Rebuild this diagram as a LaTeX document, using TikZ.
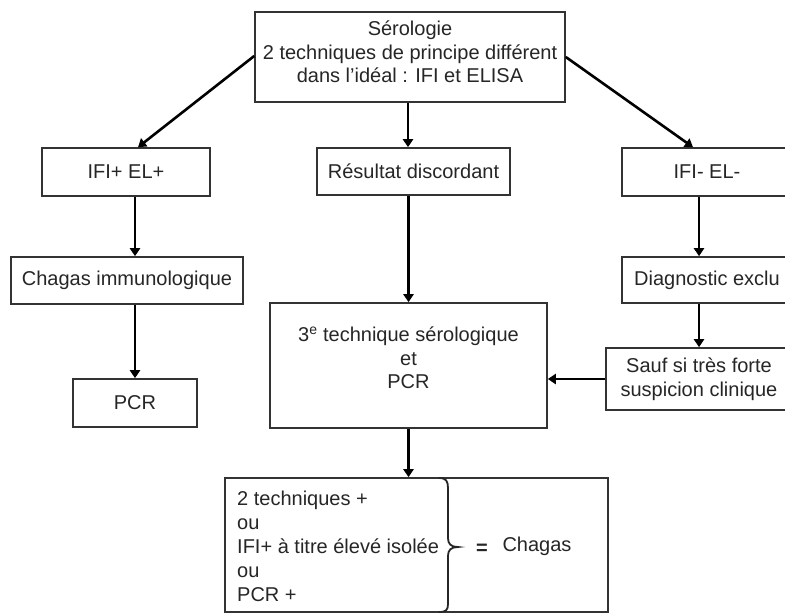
\documentclass[tikz,border=0pt]{standalone}
\usepackage{fontspec}
\setmainfont{Liberation Sans}
\usetikzlibrary{arrows.meta}
\tikzset{
  box/.style={draw=black!80, line width=1.6pt, inner sep=0pt, fill=white},
  lbl/.style={inner sep=0pt, font=\fontsize{20}{23.5}\selectfont, text=black!85},
  arr/.style={draw=black, line width=2.6pt, -{Triangle[width=10pt,length=8pt]}},
  bracestyle/.style={draw=black!85, line width=1.8pt, line cap=round},
}
\begin{document}
\begin{tikzpicture}[x=1pt,y=-1pt]
\useasboundingbox (0,0) rectangle (785,616);
% boxes
\node[box, minimum width=310pt, minimum height=90pt] (top) at (410,57) {};
\node[lbl, align=center] (toptxt) at (410,52) {Sérologie\\2 techniques de principe différent\\dans l'idéal : IFI et ELISA};
\node[box, lbl, minimum width=168pt, minimum height=48pt] (ifip) at (126,172) {IFI+ EL+};
\node[box, lbl, minimum width=232pt, minimum height=47pt] (chim) at (127,280.5) {Chagas immunologique};
\node[box, lbl, minimum width=124pt, minimum height=48pt] (pcr) at (135,403) {PCR};
\node[box, lbl, minimum width=193pt, minimum height=47pt] (disc) at (413.5,171.5) {Résultat discordant};
\node[box, lbl, minimum width=170pt, minimum height=48pt] (ifim) at (707,172) {IFI- EL-};
\node[box, lbl, minimum width=170pt, minimum height=46pt] (diag) at (707,280) {Diagnostic exclu};
\node[box, lbl, align=center, minimum width=186pt, minimum height=62pt] (sauf) at (699,379) {Sauf si très forte\\suspicion clinique};
\node[box, minimum width=277pt, minimum height=125pt] (tech3) at (408.5,365.5) {};
\node[lbl, align=center] (tech3txt) at (408.5,358) {3\textsuperscript{e} technique sérologique\\et\\PCR};
\node[box, minimum width=383pt, minimum height=134pt] (bottom) at (416.5,545) {};
\node[lbl, align=left, anchor=west, font=\fontsize{20}{24}\selectfont] (crit) at (237,546) {2 techniques +\\ou\\IFI+ à titre élevé isolée\\ou\\PCR +};
\node[lbl, font=\fontsize{20}{23.5}\bfseries] (eq) at (482,549) {=};
\node[lbl] (chagas) at (537,546) {Chagas};
% brace
\draw[bracestyle] (439,478) .. controls (446,478) and (448,481) .. (448,488)
  -- (448,538) .. controls (448,544) and (451,547) .. (458,547)
  .. controls (451,547) and (448,550) .. (448,556)
  -- (448,604) .. controls (448,610) and (446,612) .. (439,612);
% connectors
\draw[arr] ([yshift=1pt]top.west) -- ([xshift=12pt]ifip.north);
\draw[arr] ([yshift=0pt]top.east) -- ([xshift=-14pt]ifim.north);
\draw[arr] ([xshift=-2pt]top.south) -- ([xshift=-2pt]top.south |- disc.north);
\draw[arr] (pcr.north |- ifip.south) -- (pcr.north |- chim.north);
\draw[arr] (pcr.north |- chim.south) -- (pcr.north);
\draw[arr] (tech3.north |- disc.south) -- (tech3.north);
\draw[arr] ([xshift=-8pt]ifim.south) -- ([xshift=-8pt]ifim.south |- diag.north);
\draw[arr] ([xshift=-8pt]ifim.south |- diag.south) -- ([xshift=-8pt]ifim.south |- sauf.north);
\draw[arr] (sauf.west) -- (sauf.west -| tech3.east);
\draw[arr] (tech3.south) -- (tech3.south |- bottom.north);
\end{tikzpicture}
\end{document}
